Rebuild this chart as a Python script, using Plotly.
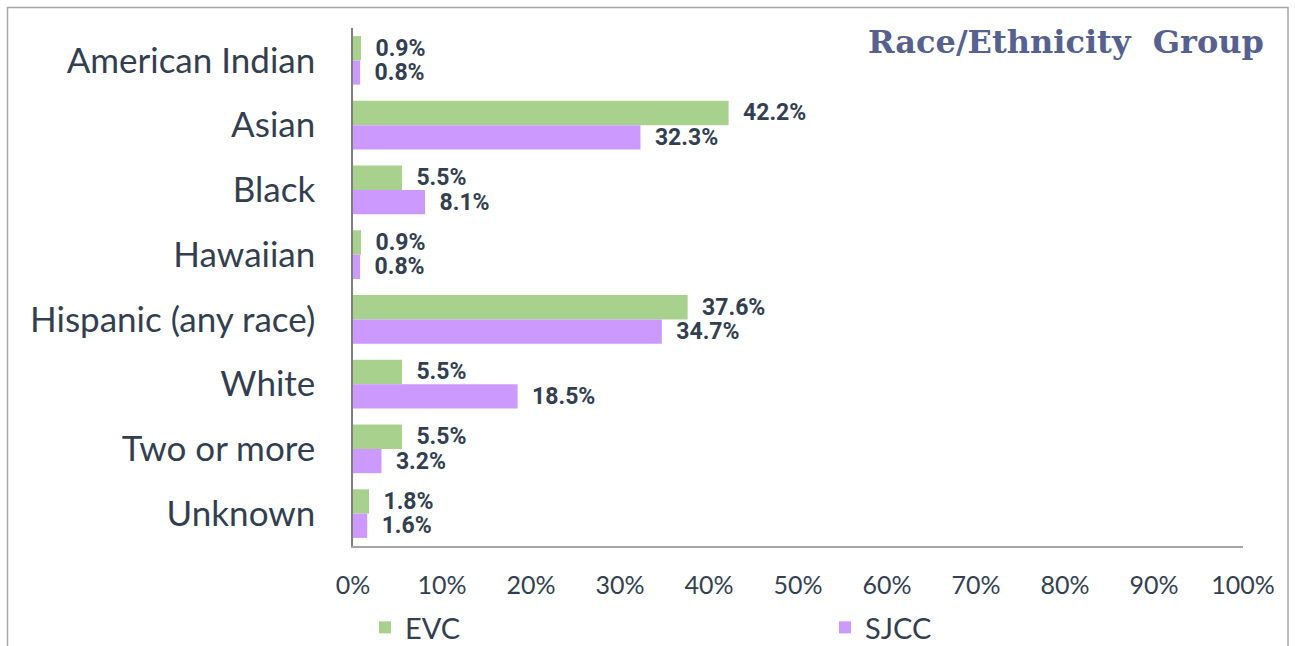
import plotly.graph_objects as go

categories = ["American Indian", "Asian", "Black", "Hawaiian", "Hispanic (any race)",
              "White", "Two or more", "Unknown"]
evc = [0.9, 42.2, 5.5, 0.9, 37.6, 5.5, 5.5, 1.8]
sjcc = [0.8, 32.3, 8.1, 0.8, 34.7, 18.5, 3.2, 1.6]
x_ticks = [0, 10, 20, 30, 40, 50, 60, 70, 80, 90, 100]
x_tick_labels = [f"{v}%" for v in x_ticks]

W, H = 1295, 646
L, R, T, B = 353, 52, 28, 100
pw, ph = W - L - R, H - T - B

def px_x(p):
    return (p - L) / pw

def px_y(p):
    return (H - B - p) / ph

txt_font = dict(family="Roboto", size=23, color="#333f50", weight="bold")
pad = "\u00a0\u00a0"

fig = go.Figure()
fig.add_trace(go.Bar(
    y=categories, x=evc, name="EVC", orientation="h",
    marker=dict(color="#a9d18e", line=dict(width=0)),
    texttemplate=pad + "%{x:.1f}%", textposition="outside", textfont=txt_font,
    constraintext="none", cliponaxis=False, legend="legend",
))
fig.add_trace(go.Bar(
    y=categories, x=sjcc, name="SJCC", orientation="h",
    marker=dict(color="#cc99ff", line=dict(width=0)),
    texttemplate=pad + "%{x:.1f}%", textposition="outside", textfont=txt_font,
    constraintext="none", cliponaxis=False, legend="legend2",
))

leg_font = dict(family="Lato", size=29, color="#333f50")

fig.update_layout(
    width=W, height=H,
    margin=dict(l=L, r=R, t=T, b=B, autoexpand=False),
    paper_bgcolor="white", plot_bgcolor="white",
    barmode="group", bargap=0.25, bargroupgap=0.0,
    xaxis=dict(
        range=[0, 100], tickvals=x_ticks, ticktext=x_tick_labels,
        showgrid=False, zeroline=False, showline=True, linecolor="#a6a6a6", linewidth=1.5,
        ticks="", tickfont=dict(family="Lato", size=25, color="#333f50"),
        ticklabelstandoff=16, automargin=False,
    ),
    yaxis=dict(
        autorange="reversed", showgrid=False, zeroline=False,
        showline=True, linecolor="#7f7f7f", linewidth=1.5, ticks="",
        tickfont=dict(family="Lato", size=35, color="#333f50"),
        ticklabelstandoff=29, automargin=False,
    ),
    legend=dict(
        orientation="h", x=px_x(365), y=px_y(653), xanchor="left", yanchor="bottom",
        font=leg_font, borderwidth=0, bgcolor="rgba(0,0,0,0)",
    ),
    legend2=dict(
        orientation="h", x=px_x(825), y=px_y(653), xanchor="left", yanchor="bottom",
        font=leg_font, borderwidth=0, bgcolor="rgba(0,0,0,0)",
    ),
    showlegend=True,
    shapes=[dict(
        type="rect", xref="paper", yref="paper",
        x0=px_x(7.5), x1=px_x(1288), y0=px_y(680), y1=px_y(7.5),
        line=dict(color="#a6a6a6", width=1.5), fillcolor="rgba(0,0,0,0)", layer="below",
    )],
    annotations=[dict(
        text="<b>Race/Ethnicity  Group</b>", xref="paper", yref="paper",
        x=px_x(1266), y=px_y(42), xanchor="right", yanchor="middle", showarrow=False,
        font=dict(family="DejaVu Serif", size=32, color="#56618f"),
    )],
)

fig.write_html("out.html", config={"displayModeBar": False},
               post_script="document.body.style.margin='0';")
